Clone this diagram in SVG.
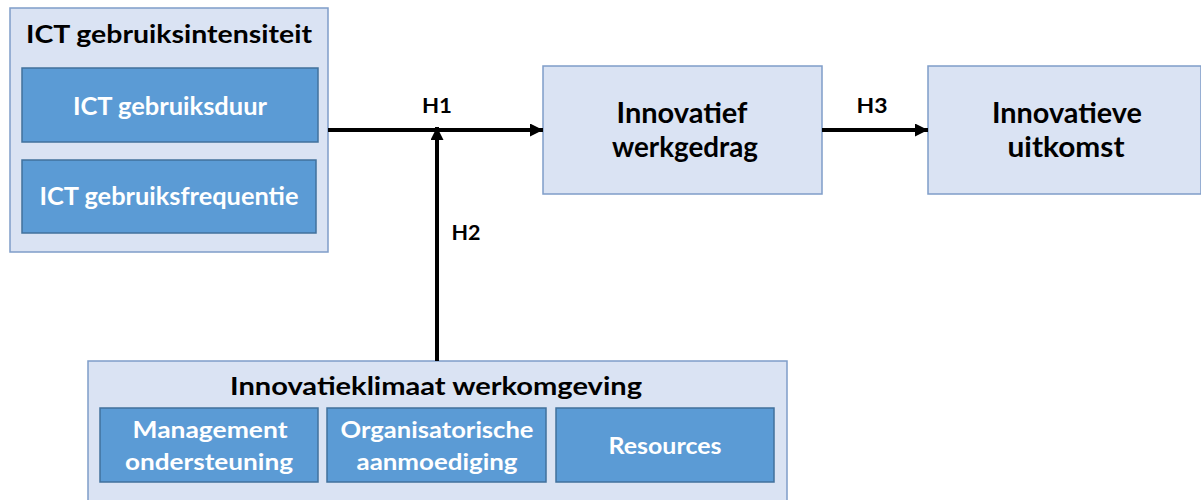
<svg xmlns="http://www.w3.org/2000/svg" width="1201" height="500" viewBox="0 0 1201 500">
<style>
.outer{fill:#DAE3F3;stroke:#7F9DC9;stroke-width:1.5}
.inner{fill:#5B9BD5;stroke:#41719C;stroke-width:1.5}
.t{font-family:Lato,"Liberation Sans",sans-serif;font-weight:bold;text-anchor:middle}
.dark{fill:#000}
.white{fill:#fff}
.conn{stroke:#000;stroke-width:4;fill:none}
</style>
<defs>
<marker id="arr" markerUnits="userSpaceOnUse" markerWidth="14" markerHeight="13" refX="13" refY="6.5" orient="auto">
<path d="M0,0 L13,6.5 L0,13 Z" fill="#000"/>
</marker>
</defs>
<g id="ict">
<rect class="outer" x="10" y="8" width="318" height="244"/>
<text class="t dark" x="169" y="43" font-size="25" textLength="286" lengthAdjust="spacingAndGlyphs">ICT gebruiksintensiteit</text>
<rect class="inner" x="22" y="68" width="296" height="74"/>
<text class="t white" x="170" y="115" font-size="24" textLength="194" lengthAdjust="spacingAndGlyphs">ICT gebruiksduur</text>
<rect class="inner" x="22" y="160" width="294" height="73"/>
<text class="t white" x="169" y="205" font-size="24" textLength="259" lengthAdjust="spacingAndGlyphs">ICT gebruiksfrequentie</text>
</g>
<g id="iwg">
<rect class="outer" x="543" y="66" width="279" height="128"/>
<text class="t dark" x="682" y="123" font-size="28" textLength="131" lengthAdjust="spacingAndGlyphs">Innovatief</text>
<text class="t dark" x="685" y="157" font-size="28" textLength="146" lengthAdjust="spacingAndGlyphs">werkgedrag</text>
</g>
<g id="iu">
<rect class="outer" x="928" y="66" width="273" height="128"/>
<text class="t dark" x="1067" y="123" font-size="28" textLength="150" lengthAdjust="spacingAndGlyphs">Innovatieve</text>
<text class="t dark" x="1066" y="157" font-size="28" textLength="117" lengthAdjust="spacingAndGlyphs">uitkomst</text>
</g>
<g id="klimaat">
<rect class="outer" x="88" y="361" width="699" height="145"/>
<text class="t dark" x="436" y="395" font-size="25" textLength="412" lengthAdjust="spacingAndGlyphs">Innovatieklimaat werkomgeving</text>
<rect class="inner" x="100" y="408" width="218" height="74"/>
<text class="t white" x="210" y="438" font-size="23" textLength="155" lengthAdjust="spacingAndGlyphs">Management</text>
<text class="t white" x="209" y="470" font-size="23" textLength="168" lengthAdjust="spacingAndGlyphs">ondersteuning</text>
<rect class="inner" x="327" y="408" width="219" height="74"/>
<text class="t white" x="437" y="438" font-size="23" textLength="193" lengthAdjust="spacingAndGlyphs">Organisatorische</text>
<text class="t white" x="437" y="470" font-size="23" textLength="161" lengthAdjust="spacingAndGlyphs">aanmoediging</text>
<rect class="inner" x="556" y="408" width="218" height="74"/>
<text class="t white" x="665" y="454" font-size="23" textLength="113" lengthAdjust="spacingAndGlyphs">Resources</text>
</g>
<g id="connectors">
<line class="conn" x1="328" y1="130" x2="543" y2="130" marker-end="url(#arr)"/>
<line class="conn" x1="437" y1="361" x2="437" y2="127" marker-end="url(#arr)"/>
<line class="conn" x1="822" y1="130" x2="928" y2="130" marker-end="url(#arr)"/>
<text class="t dark" x="437" y="113" font-size="21" textLength="30" lengthAdjust="spacingAndGlyphs">H1</text>
<text class="t dark" x="466" y="240" font-size="21" textLength="29" lengthAdjust="spacingAndGlyphs">H2</text>
<text class="t dark" x="872" y="113" font-size="21" textLength="31" lengthAdjust="spacingAndGlyphs">H3</text>
</g>
</svg>
